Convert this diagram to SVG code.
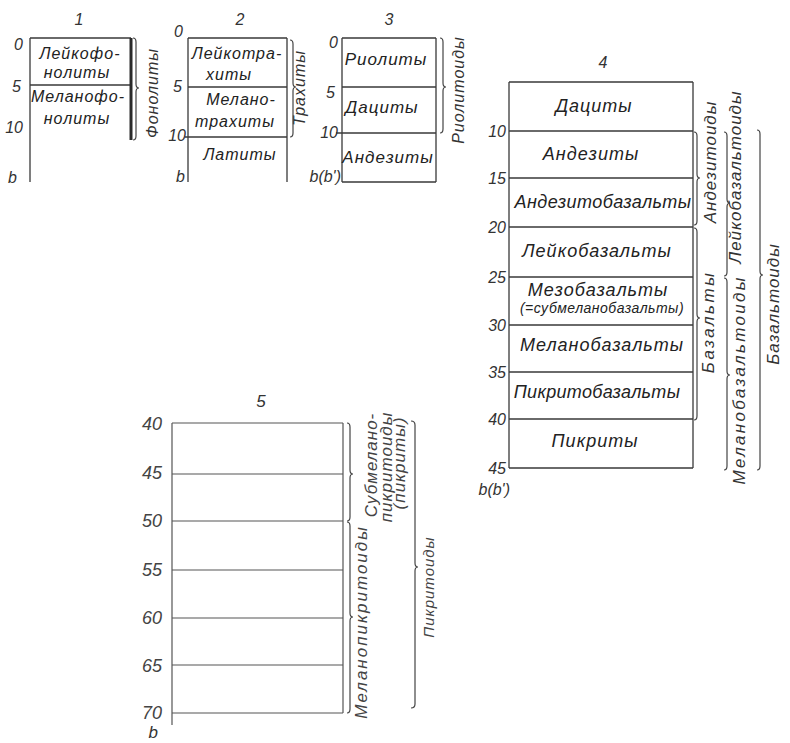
<svg xmlns="http://www.w3.org/2000/svg" width="790" height="743" viewBox="0 0 790 743">
<style>
.ln{stroke:#3a3a3a;stroke-width:1.3;fill:none}
.ln5{stroke:#555;stroke-width:1.2;fill:none}
.br{stroke:#444;stroke-width:1.2;fill:none}
.t{font-family:"Liberation Sans","DejaVu Sans",sans-serif;font-style:italic;fill:#222;font-size:16px;letter-spacing:1px;text-anchor:middle}
.t4{font-size:18px}
.s{font-size:14px;letter-spacing:0.5px}
.rt{font-family:"Liberation Sans","DejaVu Sans",sans-serif;font-style:italic;fill:#333;font-size:17px;letter-spacing:1px;text-anchor:middle}
.n{font-family:"Liberation Sans","DejaVu Sans",sans-serif;font-style:italic;fill:#333;font-size:16px;text-anchor:end}
.n5{font-size:18px;fill:#444}
.h{font-family:"Liberation Sans","DejaVu Sans",sans-serif;font-style:italic;fill:#333;font-size:16px;text-anchor:middle}
</style>
<rect width="790" height="743" fill="#fff"/>

<g id="col1">
<text class="h" x="79" y="25">1</text>
<path class="ln" d="M30 38 H131 M30 85 H131 M30 38 V182"/>
<path d="M131 38 V140" stroke="#2a2a2a" stroke-width="3" fill="none"/>
<text class="n" x="23" y="50">0</text>
<text class="n" x="21" y="92">5</text>
<text class="n" x="23" y="133">10</text>
<text class="n" x="17" y="183">b</text>
<text class="t" x="80" y="59">Лейкофо-</text>
<text class="t" x="77" y="78">нолиты</text>
<text class="t" x="78" y="102">Меланофо-</text>
<text class="t" x="77" y="124">нолиты</text>
</g>

<g id="col2">
<text class="h" x="240" y="25">2</text>
<path class="ln" d="M188 38 H287 M188 87 H287 M185 137 H287 M188 38 V182 M287 38 V182"/>
<text class="n" x="183" y="37">0</text>
<text class="n" x="182" y="92">5</text>
<text class="n" x="186" y="141">10</text>
<text class="n" x="185" y="182">b</text>
<text class="t" x="237" y="59">Лейкотра-</text>
<text class="t" x="229" y="80">хиты</text>
<text class="t" x="241" y="105">Мелано-</text>
<text class="t" x="235" y="127">трахиты</text>
<text class="t" x="240" y="160">Латиты</text>
</g>

<g id="col3">
<text class="h" x="389" y="25">3</text>
<path class="ln" d="M342 38 H436 M342 87 H436 M336 133 H436 M342 182 H436 M342 38 V182 M436 38 V182"/>
<text class="n" x="338" y="48">0</text>
<text class="n" x="335" y="98">5</text>
<text class="n" x="338" y="138">10</text>
<text class="n" x="341" y="182">b(b')</text>
<text class="t" style="font-size:17px" x="386" y="65">Риолиты</text>
<text class="t" style="font-size:17px" x="382" y="113">Дациты</text>
<text class="t" style="font-size:17px" x="388" y="163">Андезиты</text>
</g>

<g id="col4">
<text class="h" x="603" y="68">4</text>
<path class="ln" d="M509 82 H693 M509 131 H693 M509 178 H693 M509 227 H693 M509 277 H693 M509 325 H693 M509 372 H693 M509 419 H693 M509 468 H693 M509 82 V468 M693 82 V468"/>
<text class="n" x="506" y="137">10</text>
<text class="n" x="506" y="184">15</text>
<text class="n" x="506" y="233">20</text>
<text class="n" x="506" y="283">25</text>
<text class="n" x="506" y="331">30</text>
<text class="n" x="506" y="378">35</text>
<text class="n" x="506" y="425">40</text>
<text class="n" x="506" y="474">45</text>
<text class="n" x="510" y="495">b(b')</text>
<text class="t t4" x="594" y="112">Дациты</text>
<text class="t t4" x="591" y="160">Андезиты</text>
<text class="t t4" style="letter-spacing:0.4px" x="603" y="208">Андезитобазальты</text>
<text class="t t4" x="597" y="257">Лейкобазальты</text>
<text class="t t4" x="598" y="296">Мезобазальты</text>
<text class="t s" x="602" y="313">(=субмеланобазальты)</text>
<text class="t t4" x="602" y="351">Меланобазальты</text>
<text class="t t4" style="letter-spacing:0.3px" x="597" y="398">Пикритобазальты</text>
<text class="t t4" x="595" y="447">Пикриты</text>
</g>

<g id="col5">
<text class="h" x="261" y="407" style="font-size:17px">5</text>
<path class="ln5" d="M172 423 H343 M172 474 H343 M172 521 H343 M172 570 H343 M172 618 H343 M172 665 H343 M172 713 H343 M172 423 V725 M343 423 V713"/>
<text class="n n5" x="162" y="430">40</text>
<text class="n n5" x="162" y="479">45</text>
<text class="n n5" x="162" y="527">50</text>
<text class="n n5" x="162" y="576">55</text>
<text class="n n5" x="162" y="624">60</text>
<text class="n n5" x="162" y="672">65</text>
<text class="n n5" x="162" y="719">70</text>
<text class="n" style="font-size:17px" x="158" y="738">b</text>
</g>

<g id="labels">
<text class="rt" style="font-size:16px" transform="translate(158,93) rotate(-90)">Фонолиты</text>
<text class="rt" style="font-size:16px" transform="translate(305,88) rotate(-90)">Трахиты</text>
<text class="rt" style="font-size:16px" transform="translate(464,90) rotate(-90)">Риолитоиды</text>
<text class="rt" transform="translate(716,162) rotate(-90)">Андезитоиды</text>
<text class="rt" transform="translate(741,177) rotate(-90)">Лейкобазальтоиды</text>
<text class="rt" style="letter-spacing:2.5px" transform="translate(714,322) rotate(-90)">Базальты</text>
<text class="rt" style="letter-spacing:2.3px" transform="translate(745,380) rotate(-90)">Меланобазальтоиды</text>
<text class="rt" transform="translate(779,304) rotate(-90)">Базальтоиды</text>
<text class="rt" style="letter-spacing:2px;fill:#444" transform="translate(367,622) rotate(-90)">Меланопикритоиды</text>
<text class="rt s" style="fill:#444" transform="translate(377,465) rotate(-90)">Субмелано-</text>
<text class="rt s" style="fill:#444" transform="translate(392,467) rotate(-90)">пикритоиды</text>
<text class="rt s" style="fill:#444" transform="translate(405,463) rotate(-90)">(пикриты)</text>
<text class="rt" style="font-size:15px;fill:#444" transform="translate(434,587) rotate(-90)">Пикритоиды</text>
</g>

<g id="connectors">
<path class="br" d="M133 38 Q136 38 136 42 V84 Q136 88 139 88 Q136 88 136 92 V136 Q136 140 133 140"/>
<path class="br" d="M290 40 Q293 40 293 44 V83 Q293 87 296 87 Q293 87 293 91 V133 Q293 137 290 137"/>
<path class="br" d="M440 38 Q443 38 443 42 V83 Q443 87 446 87 Q443 87 443 91 V129 Q443 133 440 133"/>
<path class="br" d="M694 132 Q697 132 697 136 V174 Q697 178 700 178 Q697 178 697 182 V221 Q697 225 694 225"/>
<path class="br" d="M694 228 Q697 228 697 232 V314 Q697 318 700 318 Q697 318 697 322 V416 Q697 420 694 420"/>
<path class="br" d="M724 132 Q727 132 727 136 V199 Q727 203 730 203 Q727 203 727 207 V272 Q727 276 724 276"/>
<path class="br" d="M724 278 Q727 278 727 282 V371 Q727 375 730 375 Q727 375 727 379 V466 Q727 470 724 470"/>
<path class="br" d="M757 130 Q760 130 760 134 V271 Q760 275 763 275 Q760 275 760 279 V466 Q760 470 757 470"/>
<path class="br" d="M347 423 Q350 423 350 427 V470 Q350 474 353 474 Q350 474 350 478 V517 Q350 521 347 521"/>
<path class="br" d="M347 522 Q350 522 350 526 V613 Q350 617 353 617 Q350 617 350 621 V709 Q350 713 347 713"/>
<path class="br" d="M411 421 Q415 421 415 425 V563 Q415 567 418 567 Q415 567 415 571 V704 Q415 708 411 708"/>
</g>
</svg>
